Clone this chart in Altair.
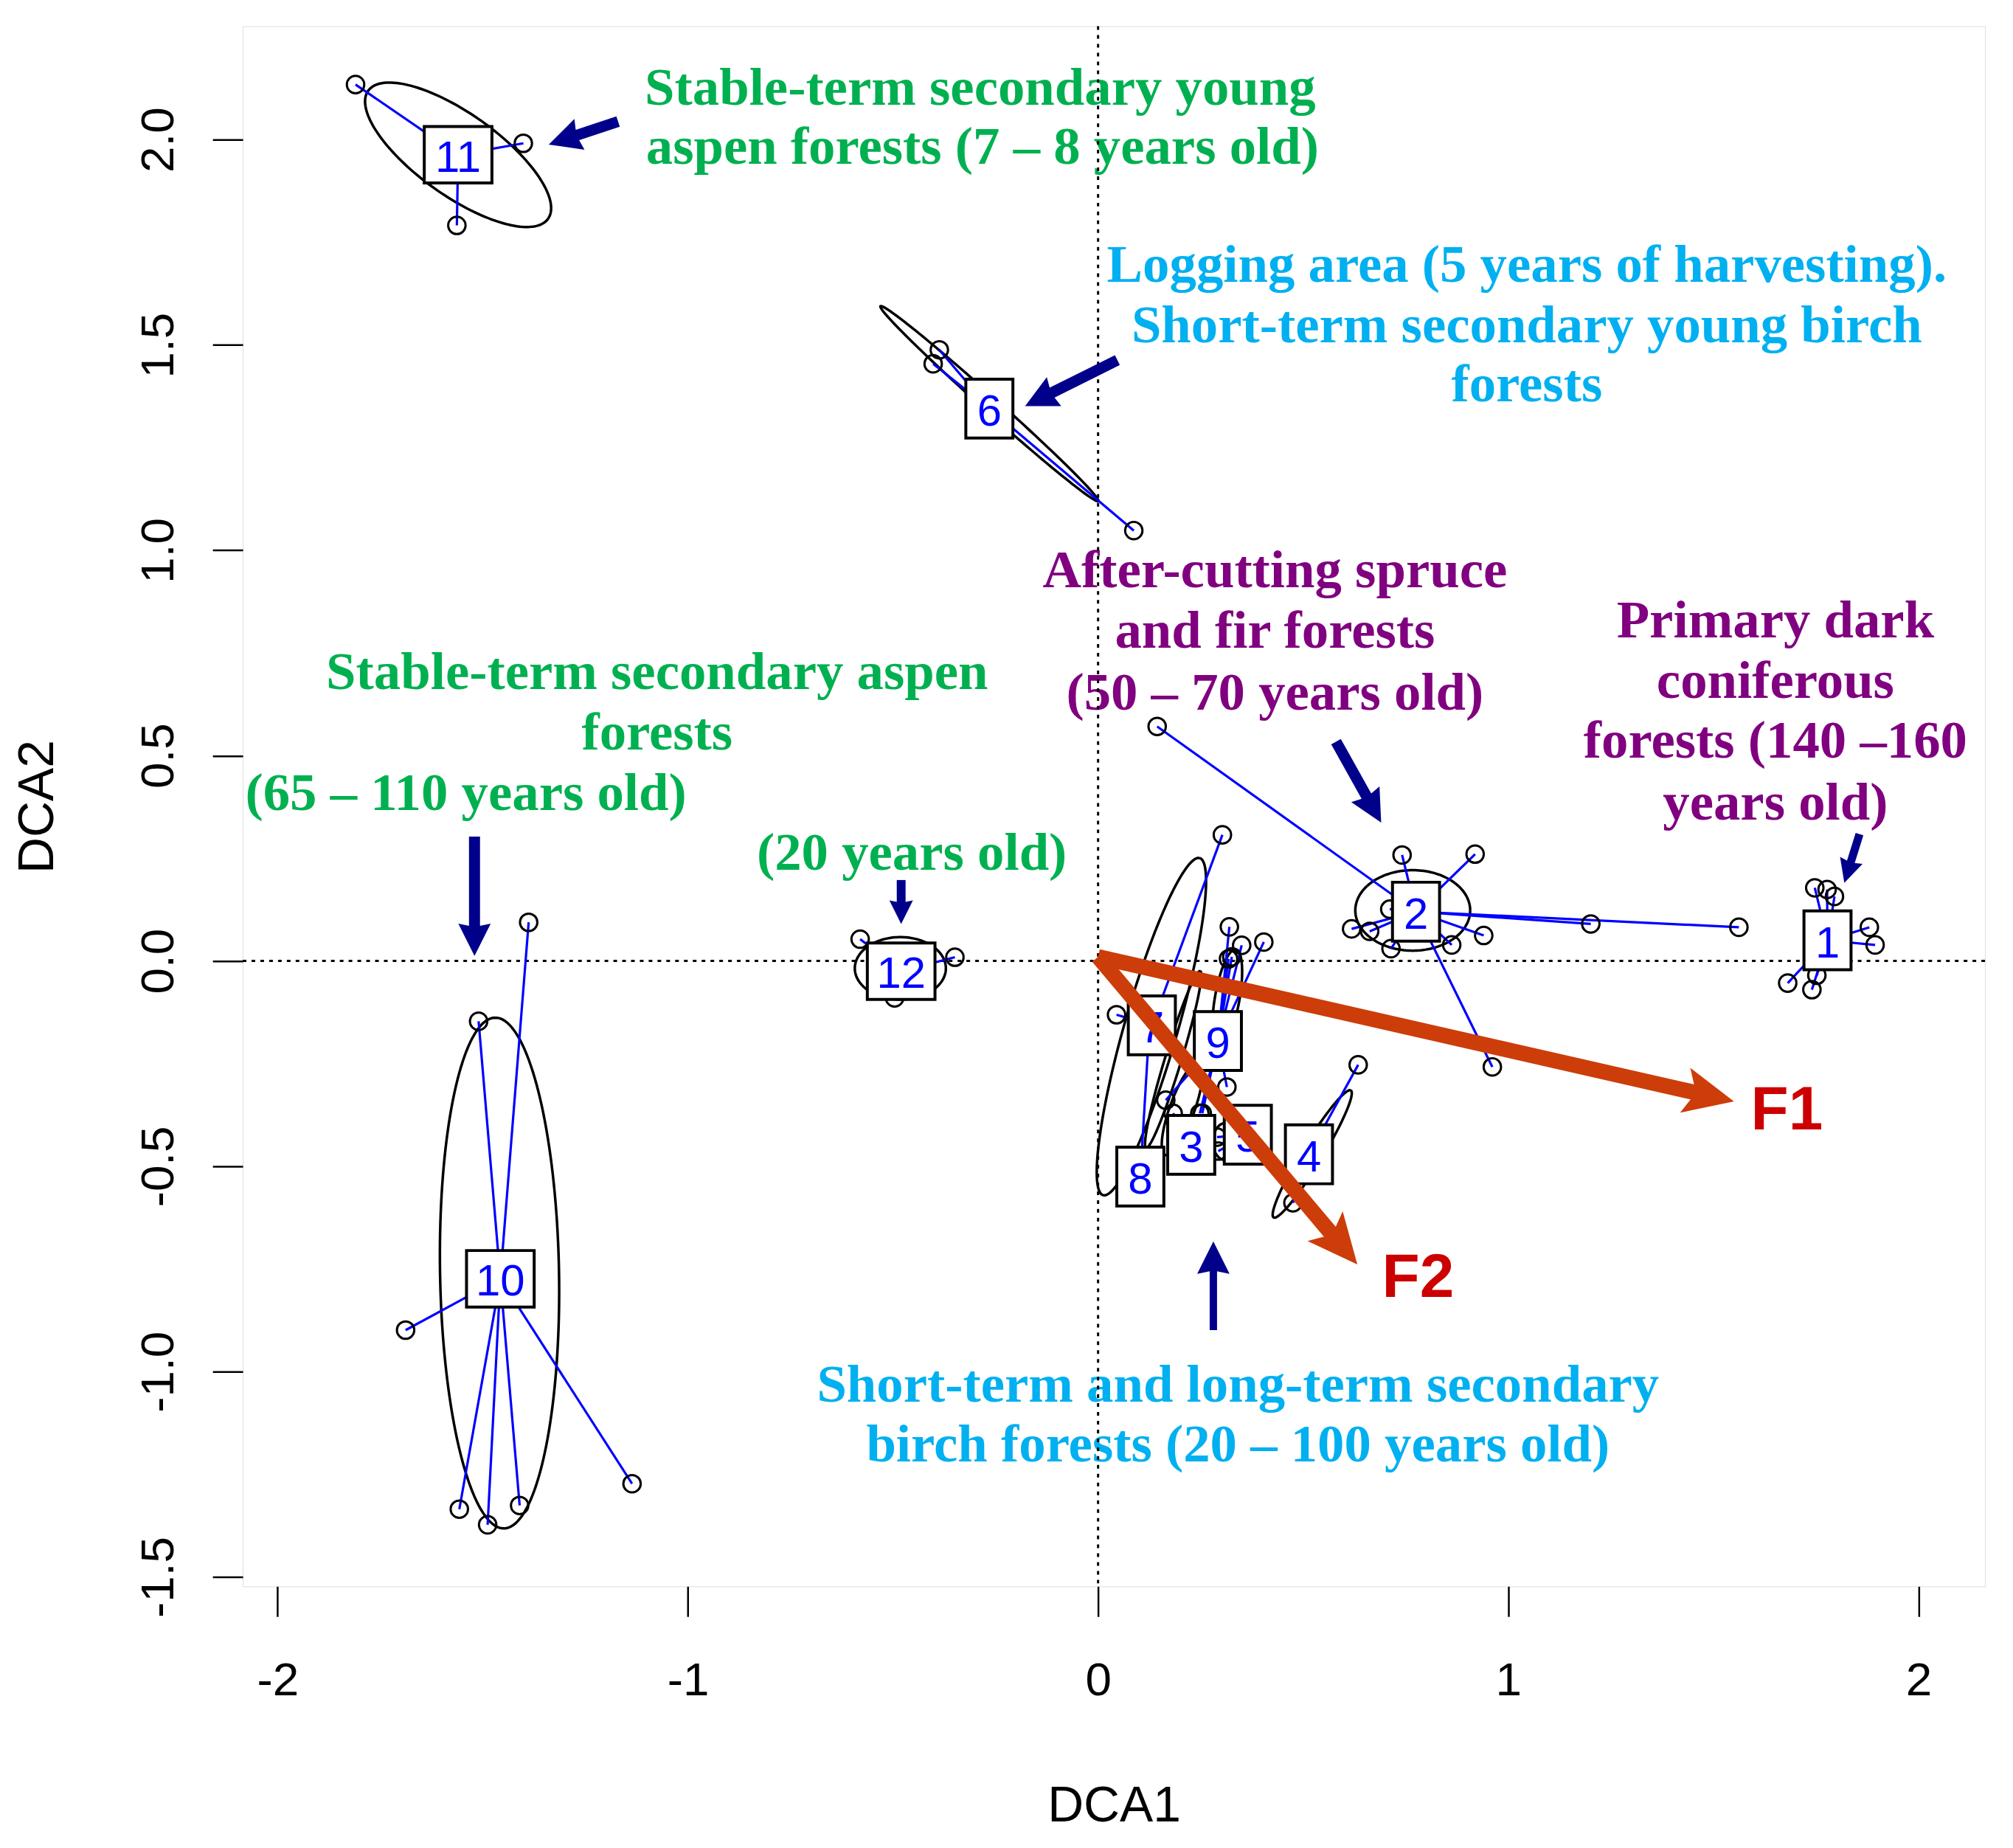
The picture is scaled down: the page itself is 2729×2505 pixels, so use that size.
import altair as alt
import pandas as pd
import numpy as np

# ---------------- axes ----------------
X_DOMAIN = [-2.085, 2.162]
Y_DOMAIN = [-1.523, 2.276]
X_TICKS = [-2, -1, 0, 1, 2]
Y_TICKS = [-1.5, -1.0, -0.5, 0.0, 0.5, 1.0, 1.5, 2.0]
W, H = 2369, 2121

# ---------------- group centroids (labelled boxes) ----------------
group_ids = ["1", "2", "3", "4", "5", "6", "7", "8", "9", "10", "11", "12"]
centroid_x = [1.778, 0.775, 0.227, 0.514, 0.365, -0.265, 0.131, 0.103, 0.292, -1.457, -1.560, -0.480]
centroid_y = [0.050, 0.120, -0.448, -0.471, -0.423, 1.345, -0.157, -0.525, -0.195, -0.774, 1.963, -0.025]

# ---------------- sites ----------------
site_group = (["11"] * 3 + ["6"] * 3 + ["12"] * 3 + ["10"] * 7 + ["2"] * 12 + ["1"] * 8
              + ["7"] * 2 + ["8"] + ["9"] * 9 + ["3"] + ["5"] * 2 + ["4"] * 2)
site_x = [-1.810, -1.401, -1.563,
          -0.387, -0.402, 0.087,
          -0.580, -0.496, -0.349,
          -1.388, -1.510, -1.688, -1.557, -1.488, -1.410, -1.136,
          0.741, 0.919, 0.618, 0.662, 0.711, 0.714, 0.862, 0.940, 1.201, 1.562, 0.961, 0.144,
          1.747, 1.777, 1.795, 1.880, 1.894, 1.681, 1.740, 1.752,
          0.045, 0.303,
          0.123,
          0.320, 0.350, 0.404, 0.326, 0.318, 0.314, 0.165, 0.248, 0.254,
          0.183,
          0.290, 0.293,
          0.634, 0.475]
site_y = [2.134, 1.991, 1.791,
          1.488, 1.454, 1.048,
          0.053, -0.090, 0.009,
          0.094, -0.147, -0.899, -1.335, -1.373, -1.326, -1.273,
          0.258, 0.260, 0.078, 0.072, 0.126, 0.030, 0.039, 0.062, 0.090, 0.082, -0.258, 0.571,
          0.178, 0.174, 0.157, 0.082, 0.039, -0.054, -0.070, -0.035,
          -0.131, 0.307,
          -0.192,
          0.083, 0.038, 0.046, 0.010, 0.005, -0.307, -0.339, -0.371, -0.371,
          -0.371,
          -0.429, -0.463,
          -0.253, -0.589]

# ---------------- group ellipses ----------------
ell_group = ["11", "6", "12", "10", "2", "7", "8", "9", "3", "4", "5"]
ell_cx = [-1.560, -0.265, -0.482, -1.459, 0.767, 0.130, 0.183, 0.315, 0.205, 0.522, 0.310]
ell_cy = [1.963, 1.357, -0.018, -0.760, 0.123, -0.160, -0.240, -0.090, -0.360, -0.470, -0.440]
ell_a = [0.269, 0.356, 0.111, 0.622, 0.140, 0.427, 0.225, 0.120, 0.120, 0.181, 0.045]
ell_b = [0.100, 0.018, 0.076, 0.145, 0.098, 0.065, 0.020, 0.030, 0.030, 0.025, 0.030]
ell_ang = [-35.4, -41.8, 0.0, 91.0, 0.0, 74.0, 73.0, 80.0, 70.0, 58.7, 90.0]

# ---------------- fitted vectors ----------------
vec_name = ["F1", "F2"]
vec_x0 = [0.0, 0.0]
vec_y0 = [0.01, 0.01]
vec_x1 = [1.550, 0.632]
vec_y1 = [-0.342, -0.739]
vec_lab_x = [1.679, 0.780]
vec_lab_y = [-0.365, -0.774]

# ---------------- pointer arrows ----------------
ptr_x0 = [-1.170, 0.047, 0.580, 1.856, -1.520, -0.480, 0.281]
ptr_y0 = [2.044, 1.463, 0.534, 0.309, 0.303, 0.197, -0.899]
ptr_x1 = [-1.339, -0.178, 0.690, 1.819, -1.520, -0.480, 0.281]
ptr_y1 = [1.988, 1.351, 0.337, 0.190, 0.012, 0.090, -0.683]
ptr_head = [44, 44, 44, 32, 44, 32, 44]
ptr_shaft = [15, 15, 15, 11, 15, 12, 10]

# ---------------- annotation text ----------------
GREEN, CYAN, PURPLE = "#00B050", "#00B0F0", "#800080"
ann_text = ["Stable-term secondary young", "aspen forests (7 – 8 years old)",
            "Logging area (5 years of harvesting).", "Short-term secondary young birch", "forests",
            "After-cutting spruce", "and fir forests", "(50 – 70 years old)",
            "Primary dark", "coniferous", "forests (140 –160", "years old)",
            "Stable-term secondary aspen", "forests", "(65 – 110 years old)",
            "(20 years old)",
            "Short-term and long-term secondary", "birch forests (20 – 100 years old)"]
ann_x = [-1.105, -1.102, 1.045, 1.045, 1.045, 0.431, 0.431, 0.431,
         1.651, 1.651, 1.651, 1.651, -1.075, -1.075, -1.541, -0.454, 0.341, 0.341]
ann_y = [2.125, 1.981, 1.694, 1.545, 1.402, 0.949, 0.802, 0.652,
         0.827, 0.680, 0.534, 0.384, 0.702, 0.555, 0.406, 0.262, -1.033, -1.179]
ann_color = [GREEN, GREEN, CYAN, CYAN, CYAN, PURPLE, PURPLE, PURPLE,
             PURPLE, PURPLE, PURPLE, PURPLE, GREEN, GREEN, GREEN, GREEN, CYAN, CYAN]
ann_align = ["left", "left"] + ["center"] * 16

# ================= build tables =================
PX_PER_UNIT = W / (X_DOMAIN[1] - X_DOMAIN[0])

cent = pd.DataFrame({"g": group_ids, "x": centroid_x, "y": centroid_y})
cent["wide"] = cent["g"].str.len() > 1
sites = pd.DataFrame({"g": site_group, "x": site_x, "y": site_y})
spider = sites.merge(cent[["g", "x", "y"]].rename(columns={"x": "cx", "y": "cy"}), on="g")

t = np.linspace(0, 2 * np.pi, 161)
rows = []
for g, cx, cy, a, b, ang in zip(ell_group, ell_cx, ell_cy, ell_a, ell_b, ell_ang):
    th = np.deg2rad(ang)
    ex = cx + a * np.cos(t) * np.cos(th) - b * np.sin(t) * np.sin(th)
    ey = cy + a * np.cos(t) * np.sin(th) + b * np.sin(t) * np.cos(th)
    for i, (u, v) in enumerate(zip(ex, ey)):
        rows.append({"g": g, "i": i, "x": u, "y": v})
ell = pd.DataFrame(rows)


def arrows(x0, y0, x1, y1, head_px, shaft_px, back_frac):
    out = []
    for a, b, c, d, hp, sp in zip(x0, y0, x1, y1, head_px, shaft_px):
        dx, dy = c - a, d - b
        L = np.hypot(dx, dy)
        back = hp * back_frac / PX_PER_UNIT
        out.append({"x0": a, "y0": b, "xe": c - dx / L * back, "ye": d - dy / L * back,
                    "x1": c, "y1": d, "ang": float(np.degrees(np.arctan2(-dy, dx)) % 360),
                    "sz": float((2 * hp) ** 2), "sw": float(sp)})
    return pd.DataFrame(out)


vec = arrows(vec_x0, vec_y0, vec_x1, vec_y1, [68, 68], [21, 21], 0.75)
ptr = arrows(ptr_x0, ptr_y0, ptr_x1, ptr_y1, ptr_head, ptr_shaft, 0.7)
vlab = pd.DataFrame({"t": vec_name, "x": vec_lab_x, "y": vec_lab_y})
ann = pd.DataFrame({"t": ann_text, "x": ann_x, "y": ann_y, "c": ann_color, "al": ann_align})

# ================= encodings =================
xs = alt.Scale(domain=X_DOMAIN, nice=False, zero=False)
ys = alt.Scale(domain=Y_DOMAIN, nice=False, zero=False)
x_axis = alt.Axis(values=X_TICKS, format="d", title="DCA1", grid=False, domain=False,
                  tickSize=41, tickWidth=2.5, tickColor="black",
                  labelFont="Liberation Sans", labelFontSize=64, labelColor="black", labelPadding=56,
                  labelExpr="replace(datum.label, '\u2212', '-')",
                  titleFont="Liberation Sans", titleFontSize=68, titleFontWeight="normal",
                  titleColor="black", titleY=319, titleBaseline="alphabetic")
y_axis = alt.Axis(values=Y_TICKS, format=".1f", title="DCA2", grid=False, domain=False,
                  tickSize=41, tickWidth=2.5, tickColor="black",
                  labelFont="Liberation Sans", labelFontSize=64, labelColor="black", labelPadding=54,
                  labelAngle=270, labelAlign="center", labelBaseline="alphabetic",
                  labelExpr="replace(datum.label, '\u2212', '-')",
                  titleFont="Liberation Sans", titleFontSize=68, titleFontWeight="normal",
                  titleColor="black", titleX=-258, titleBaseline="alphabetic")


def X(f="x"):
    return alt.X(f"{f}:Q", scale=xs, axis=x_axis)


def Y(f="y"):
    return alt.Y(f"{f}:Q", scale=ys, axis=y_axis)


layers = []

# annotation text (under the dotted lines)
for al in ["left", "center"]:
    layers.append(
        alt.Chart(ann[ann["al"] == al]).mark_text(
            font="Liberation Serif", fontSize=73, fontWeight="bold", align=al, baseline="middle"
        ).encode(x=X(), y=Y(), text="t:N", color=alt.Color("c:N", scale=None))
    )

# dotted zero lines
layers.append(alt.Chart(pd.DataFrame({"x": [0.0]})).mark_rule(
    color="black", strokeWidth=3, strokeDash=[5, 7]).encode(x=X()))
layers.append(alt.Chart(pd.DataFrame({"y": [0.0]})).mark_rule(
    color="black", strokeWidth=3, strokeDash=[5, 7]).encode(y=Y()))

# ellipses
layers.append(alt.Chart(ell).mark_line(color="black", strokeWidth=3.5).encode(
    x=X(), y=Y(), detail="g:N", order="i:Q"))

# spider lines
layers.append(alt.Chart(spider).mark_rule(color="#0000FF", strokeWidth=3.2).encode(
    x=X(), y=Y(), x2="cx:Q", y2="cy:Q"))

# site circles
layers.append(alt.Chart(sites).mark_point(
    shape="circle", filled=False, stroke="black", strokeWidth=3, size=560, opacity=1
).encode(x=X(), y=Y()))

# centroid boxes
layers.append(alt.Chart(cent[~cent["wide"]]).mark_point(
    shape="M-0.8,-1L0.8,-1L0.8,1L-0.8,1Z", filled=True, fill="white", stroke="black",
    strokeWidth=4, size=6400, opacity=1).encode(x=X(), y=Y()))
layers.append(alt.Chart(cent[cent["wide"]]).mark_point(
    shape="M-1.15,-0.96L1.15,-0.96L1.15,0.96L-1.15,0.96Z", filled=True, fill="white", stroke="black",
    strokeWidth=4, size=6400, opacity=1).encode(x=X(), y=Y()))
layers.append(alt.Chart(cent).mark_text(
    font="Liberation Sans", fontSize=60, color="#0000FF", align="center", baseline="middle", dy=5
).encode(x=X(), y=Y(), text="g:N"))

# fitted vectors F1, F2
VEC_COL = "#CC3D0A"
layers.append(alt.Chart(vec).mark_rule(color=VEC_COL).encode(
    x=X("x0"), y=Y("y0"), x2="xe:Q", y2="ye:Q", strokeWidth=alt.StrokeWidth("sw:Q", scale=None)))
layers.append(alt.Chart(vec).mark_point(
    shape="M0,0L-1,-0.46L-0.78,0L-1,0.46Z", filled=True, color=VEC_COL, opacity=1, strokeWidth=0
).encode(x=X("x1"), y=Y("y1"), angle=alt.Angle("ang:Q", scale=None), size=alt.Size("sz:Q", scale=None)))
layers.append(alt.Chart(vlab).mark_text(
    font="Liberation Sans", fontSize=84, fontWeight="bold", color="#CC0000", align="center", baseline="middle"
).encode(x=X(), y=Y(), text="t:N"))

# navy pointer arrows
NAVY = "#00008B"
layers.append(alt.Chart(ptr).mark_rule(color=NAVY).encode(
    x=X("x0"), y=Y("y0"), x2="xe:Q", y2="ye:Q", strokeWidth=alt.StrokeWidth("sw:Q", scale=None)))
layers.append(alt.Chart(ptr).mark_point(
    shape="M0,0L-1,-0.5L-0.9,0L-1,0.5Z", filled=True, color=NAVY, opacity=1, strokeWidth=0
).encode(x=X("x1"), y=Y("y1"), angle=alt.Angle("ang:Q", scale=None), size=alt.Size("sz:Q", scale=None)))

chart = alt.layer(*layers).properties(
    width=W, height=H, autosize="none",
    padding={"left": 322, "top": 24, "right": 30, "bottom": 344},
).configure_view(stroke="black", strokeWidth=3.5).configure(background="white")

chart.save("out.html", embed_options={"renderer": "svg", "actions": False})
